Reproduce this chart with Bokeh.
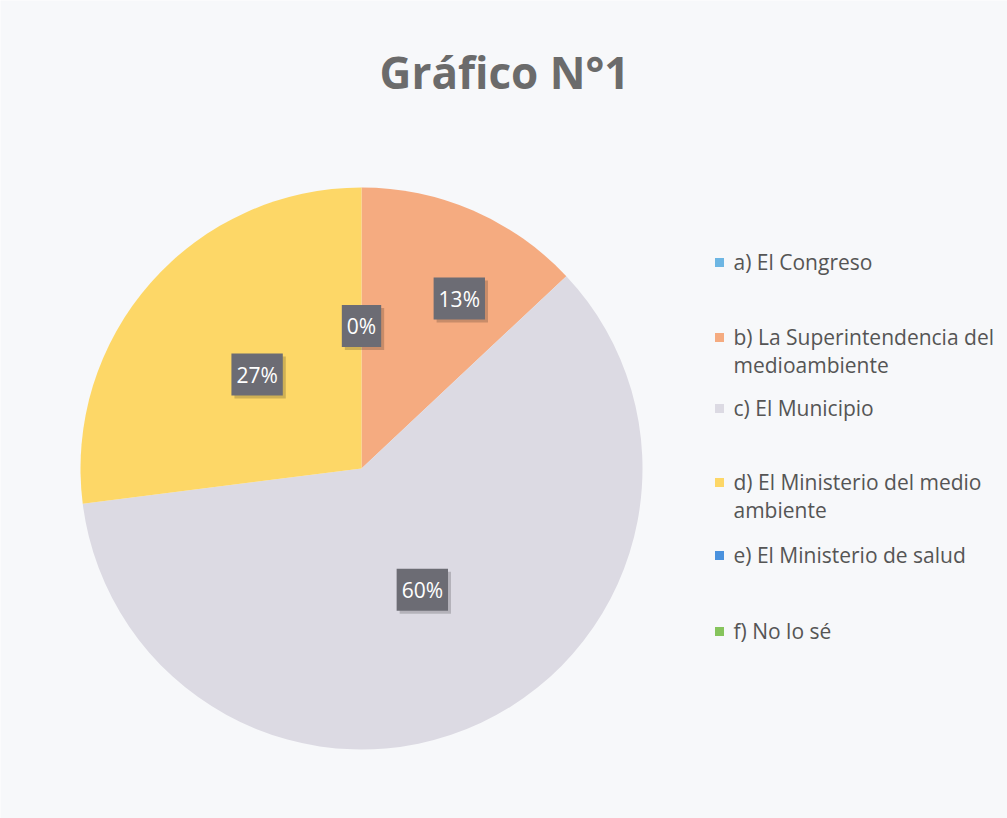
import math
from bokeh.plotting import figure
from bokeh.models import Range1d, ColumnDataSource, Label
from bokeh.core.properties import value
from bokeh.embed import file_html
from bokeh.resources import INLINE

# ---- data ----
categories = [
    "a) El Congreso",
    "b) La Superintendencia del\nmedioambiente",
    "c) El Municipio",
    "d) El Ministerio del  medio\nambiente",
    "e) El Ministerio de salud",
    "f) No lo sé",
]
percent = [0, 13, 60, 27, 0, 0]
colors = ["#6DB6E3", "#F5AB80", "#DCDAE3", "#FDD767", "#4A92DE", "#86C45C"]
shown_labels = [True, True, True, True, False, False]

# ---- layout (page px, y measured from top) ----
W, H = 1007, 818
def Y(page_y):
    return H - page_y

cx, cy, R = 361, Y(468), 281
label_frac = 0.5
label_nudge = [(0, 2), (42, 41), (1, 6), (1, 1), (0, 0), (0, 0)]
legend_x = 719
legend_text_x = 733
legend_y = [262, 337, 408, 482, 555, 631]
bg = "#F7F8FA"
font = "Open Sans"

p = figure(width=W, height=H, output_backend="svg", toolbar_location=None,
           x_range=Range1d(0, W), y_range=Range1d(0, H),
           x_axis_type=None, y_axis_type=None, min_border=0,
           background_fill_color=bg, border_fill_color=bg, outline_line_color=None)
p.grid.visible = False

total = sum(percent)
start, end, mid = [], [], []
cum = 0.0
for v in percent:
    a0 = math.pi / 2 - 2 * math.pi * cum / total
    cum += v
    a1 = math.pi / 2 - 2 * math.pi * cum / total
    start.append(a0)
    end.append(a1)
    mid.append((a0 + a1) / 2)

nz = [i for i, v in enumerate(percent) if v > 0]
wsrc = ColumnDataSource(dict(
    x=[cx] * len(nz), y=[cy] * len(nz),
    s=[start[i] for i in nz], e=[end[i] for i in nz],
    c=[colors[i] for i in nz]))
p.wedge(x="x", y="y", radius=R, start_angle="s", end_angle="e", direction="clock",
        fill_color="c", line_color=None, source=wsrc)

# data labels
lx, ly, lt = [], [], []
for i, v in enumerate(percent):
    if not shown_labels[i] or (v == 0 and i > 0):
        continue
    lx.append(cx + label_frac * R * math.cos(mid[i]) + label_nudge[i][0])
    ly.append(cy + label_frac * R * math.sin(mid[i]) + label_nudge[i][1])
    lt.append(f"{round(v)}%")
lsrc = ColumnDataSource(dict(x=lx, y=ly, t=lt))
p.text(x="x", y="y", text="t", source=lsrc, x_offset=3, y_offset=3,
       text_font=value(font), text_font_size="21px", text_alpha=0,
       text_align="center", text_baseline="middle",
       background_fill_color="#000000", background_fill_alpha=0.18, padding=[5, 7])
p.text(x="x", y="y", text="t", source=lsrc,
       text_font=value(font), text_font_size="21px", text_color="white",
       text_align="center", text_baseline="middle",
       background_fill_color="#6C6C74", padding=[5, 7])

# legend
gsrc = ColumnDataSource(dict(x=[legend_x] * 6, tx=[legend_text_x] * 6,
                             y=[Y(v) for v in legend_y], t=categories, c=colors))
p.scatter(x="x", y="y", marker="square", size=9, fill_color="c", line_color=None, source=gsrc)
p.text(x="tx", y="y", text="t", source=gsrc, y_offset=-15,
       text_font=value(font), text_font_size="21px", text_color="#555555",
       text_align="left", text_baseline="top", text_line_height=1.0)

p.add_layout(Label(x=504, y=Y(71), text="Gráfico N°1", text_font=font,
                   text_font_size="44px", text_font_style="bold", text_color="#6B6B6B",
                   text_align="center", text_baseline="middle"))

open("out.html", "w").write(file_html(p, INLINE))
